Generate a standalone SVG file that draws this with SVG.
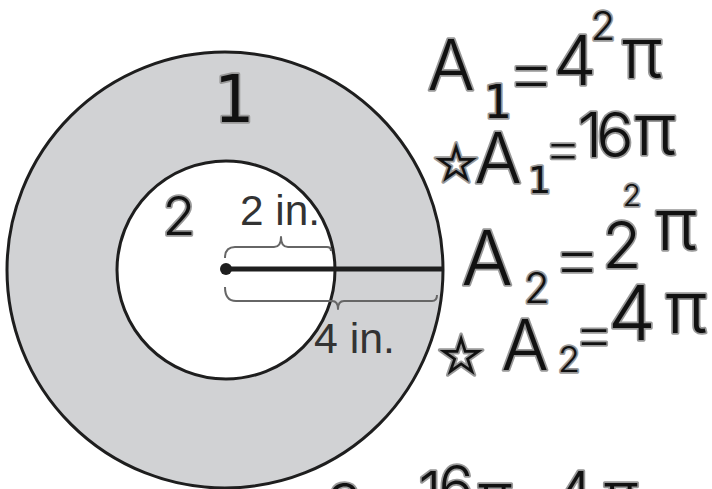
<svg xmlns="http://www.w3.org/2000/svg" width="712" height="489" viewBox="0 0 712 489">
<style>
.bg{fill:#ffffff}
.ring{fill:#d1d2d4;stroke:#1e1e1e;stroke-width:3}
.hole{fill:#ffffff;stroke:#1e1e1e;stroke-width:3}
.rad{stroke:#1e1e1e;stroke-width:5;stroke-linecap:butt}
.brace{fill:none;stroke:#666;stroke-width:2;stroke-linejoin:round}
.lbl{font-family:"Liberation Sans",Arial,sans-serif;font-size:43px;fill:#333}
.hw{font-family:Inter,"DejaVu Sans",sans-serif;font-weight:300;fill:#111;stroke:#999;stroke-width:3.5;paint-order:stroke;stroke-linejoin:round;text-anchor:middle}
.eq{font-weight:200}
.mono{font-family:"DejaVu Sans Mono",monospace;font-weight:normal}
</style>
<rect class="bg" x="0" y="0" width="712" height="489"/>
<g id="outer-circle"><circle class="ring" cx="225" cy="270" r="218"/></g>
<g id="inner-circle"><circle class="hole" cx="226" cy="270" r="109"/></g>
<g id="connectors">
<line class="rad" x1="226" y1="269" x2="443" y2="269"/>
<circle cx="226" cy="269" r="6" fill="#1e1e1e"/>
<path class="brace" d="M225,258 Q225,247 235,247 L274,247 Q281,247 281,237 Q281,247 288,247 L327,247 Q331,247 331,251"/>
<path class="brace" d="M225,287 Q225,301 236,301 L332,301 Q338,301 338,309 Q338,301 344,301 L432,301 Q437,301 437,295"/>
</g>
<g id="label-2in"><text class="lbl" x="240" y="225" textLength="80" lengthAdjust="spacingAndGlyphs">2 in.</text></g>
<g id="label-4in"><text class="lbl" x="314" y="353" textLength="81" lengthAdjust="spacingAndGlyphs">4 in.</text></g>
<g id="region-1"><text class="hw mono" x="233" y="122" font-size="66">1</text></g>
<g id="region-2"><text class="hw" x="179" y="235" font-size="54">2</text></g>
<g id="eq1">
<text class="hw" x="451" y="90" font-size="70">A</text>
<text class="hw mono" x="497" y="118" font-size="46">1</text>
<text class="hw eq" x="531" y="99" font-size="80">=</text>
<text class="hw" x="575" y="85" font-size="68">4</text>
<text class="hw" x="603" y="40" font-size="40">2</text>
<text class="hw" x="642" y="78" font-size="70">π</text>
</g>
<g id="eq2">
<text class="hw" x="456" y="182" font-size="48">☆</text>
<text class="hw" x="498" y="183" font-size="70" font-weight="600">A</text>
<text class="hw mono" x="539" y="193" font-size="38">1</text>
<text class="hw eq" x="563" y="169" font-size="62">=</text>
<text class="hw" x="590" y="157" font-size="62">1</text>
<text class="hw" x="615" y="157" font-size="62">6</text>
<text class="hw" x="655" y="155" font-size="72">π</text>
</g>
<g id="eq3">
<text class="hw" x="487" y="285" font-size="76">A</text>
<text class="hw" x="537" y="303" font-size="42">2</text>
<text class="hw eq" x="577" y="285" font-size="80">=</text>
<text class="hw" x="622" y="268" font-size="64">2</text>
<text class="hw" x="632" y="206" font-size="30">2</text>
<text class="hw" x="676" y="250" font-size="72">π</text>
</g>
<g id="eq4">
<text class="hw" x="461" y="375" font-size="50">☆</text>
<text class="hw" x="525" y="370" font-size="70">A</text>
<text class="hw" x="569" y="372" font-size="36">2</text>
<text class="hw eq" x="594" y="356" font-size="66">=</text>
<text class="hw" x="632" y="340" font-size="76">4</text>
<text class="hw" x="686" y="333" font-size="72">π</text>
</g>
<g id="eq5">
<text class="hw" x="345" y="516" font-size="60">a</text>
<text class="hw" x="430" y="513" font-size="58">1</text>
<text class="hw" x="456" y="507" font-size="58">6</text>
<text class="hw" x="495" y="517" font-size="60">π</text>
<text class="hw" x="574" y="515" font-size="60">4</text>
<text class="hw" x="621" y="516" font-size="60">π</text>
</g>
</svg>
